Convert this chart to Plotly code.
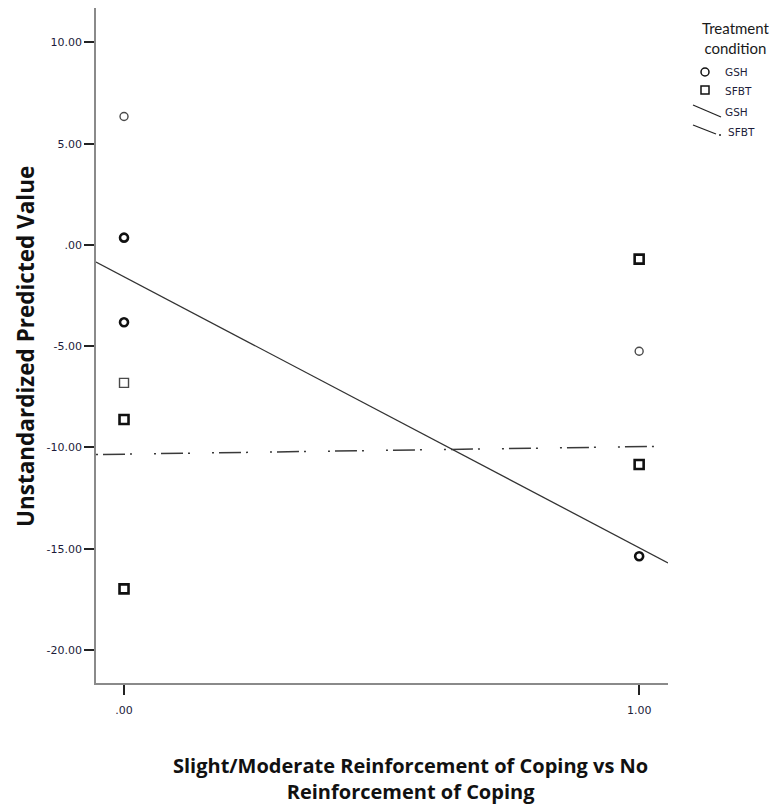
import plotly.graph_objects as go

# Observations: x group (0 = no reinforcement, 1 = slight/moderate), predicted value, number of cases
gsh_x = [0, 0, 0, 1, 1]
gsh_y = [6.34, 0.36, -3.82, -5.25, -15.37]
gsh_n = [1, 2, 2, 1, 2]

sfbt_x = [0, 0, 0, 1, 1]
sfbt_y = [-6.81, -8.62, -16.98, -0.70, -10.84]
sfbt_n = [1, 2, 2, 2, 2]

# Fit lines per group: value at x = 0 and slope
gsh_fit = (-1.57, -13.38)
sfbt_fit = (-10.33, 0.37)

x_range = [-0.0544, 1.056]
y_range = [-21.63, 11.70]
y_ticks = [10, 5, 0, -5, -10, -15, -20]
y_tick_text = ["10.00", "5.00", ".00", "-5.00", "-10.00", "-15.00", "-20.00"]
x_ticks = [0, 1]
x_tick_text = [".00", "1.00"]

x_title_lines = ["Slight/Moderate Reinforcement of Coping vs No", "Reinforcement of Coping"]
y_title = "Unstandardized Predicted Value"

W, H = 770, 807
ML, MR, MT, MB = 96, 102, 8, 124
PW, PH = W - ML - MR, H - MT - MB

TITLE_FONT = "Open Sans"
LEGEND_TITLE_FONT = "Lato"
TICK_FONT = "DejaVu Sans"


def px(x):
    return (x - ML) / PW


def py(y):
    return (H - MB - y) / PH


def stroke(n):
    return 2.6 if n > 1 else 1.4


def colour(n):
    return "#111111" if n > 1 else "#4a4a4a"


fig = go.Figure()

fig.add_trace(go.Scatter(
    x=gsh_x, y=gsh_y, mode="markers", name="GSH",
    marker=dict(symbol="circle-open", size=8,
                color=[colour(n) for n in gsh_n],
                line=dict(width=[stroke(n) for n in gsh_n],
                          color=[colour(n) for n in gsh_n])),
))
fig.add_trace(go.Scatter(
    x=sfbt_x, y=sfbt_y, mode="markers", name="SFBT",
    marker=dict(symbol="square-open", size=9,
                color=[colour(n) for n in sfbt_n],
                line=dict(width=[stroke(n) for n in sfbt_n],
                          color=[colour(n) for n in sfbt_n])),
))

# Fit lines drawn across the whole x range
for (b0, b1), style in [(gsh_fit, dict(color="#333333", width=1.3, dash="solid")),
                        (sfbt_fit, dict(color="#3a3a3a", width=1.5,
                                        dash="2px,5px,22px,5px,2px,22px"))]:
    fig.add_trace(go.Scatter(
        x=x_range, y=[b0 + b1 * x for x in x_range],
        mode="lines", line=style, showlegend=False, hoverinfo="skip",
    ))

# Hand-drawn legend on the right
shapes = []
annotations = []
annotations.append(dict(
    xref="paper", yref="paper", x=px(736), y=py(38), xanchor="center", yanchor="middle",
    text="Treatment<br>condition", showarrow=False, align="center",
    font=dict(family=LEGEND_TITLE_FONT, size=15, color="#1a1a1a"),
))
shapes.append(dict(type="circle", xref="paper", yref="paper",
                   x0=px(701), x1=px(709), y0=py(76), y1=py(68),
                   line=dict(color="#111111", width=1.5)))
shapes.append(dict(type="rect", xref="paper", yref="paper",
                   x0=px(701), x1=px(709), y0=py(94), y1=py(86),
                   line=dict(color="#111111", width=1.5)))
shapes.append(dict(type="line", xref="paper", yref="paper",
                   x0=px(693), x1=px(721), y0=py(105), y1=py(117),
                   line=dict(color="#222222", width=1.3)))
shapes.append(dict(type="line", xref="paper", yref="paper",
                   x0=px(693), x1=px(716), y0=py(125), y1=py(134),
                   line=dict(color="#222222", width=1.3)))
shapes.append(dict(type="line", xref="paper", yref="paper",
                   x0=px(719), x1=px(721), y0=py(135), y1=py(135),
                   line=dict(color="#222222", width=1.5)))
for label, xpix, ypix in [("GSH", 723, 72), ("SFBT", 723, 91), ("GSH", 723, 112), ("SFBT", 726, 132)]:
    annotations.append(dict(
        xref="paper", yref="paper", x=px(xpix), y=py(ypix), xanchor="left", yanchor="middle",
        text=label, showarrow=False,
        font=dict(family=TICK_FONT, size=10.5, color="#1c1c3a"),
    ))

# Two-line x axis title
annotations.append(dict(
    xref="paper", yref="paper", x=px(410), y=py(778), xanchor="center", yanchor="middle",
    text="<b>" + "<br>".join(x_title_lines) + "</b>", showarrow=False, align="center",
    font=dict(family=TITLE_FONT, size=20, color="#111111"),
))

# Rotated y axis title
annotations.append(dict(
    xref="paper", yref="paper", x=px(25), y=py(347), xanchor="center", yanchor="middle",
    text=f"<b>{y_title}</b>", textangle=-90, showarrow=False,
    font=dict(family=TITLE_FONT, size=22.5, color="#111111"),
))

fig.update_layout(
    width=W, height=H,
    margin=dict(l=ML, r=MR, t=MT, b=MB),
    paper_bgcolor="white", plot_bgcolor="white",
    showlegend=False,
    shapes=shapes, annotations=annotations,
    xaxis=dict(
        range=x_range, tickvals=x_ticks, ticktext=x_tick_text,
        showgrid=False, zeroline=False, showline=True, linecolor="#8a8a8a", linewidth=1.6,
        ticks="outside", ticklen=10, tickwidth=2, tickcolor="#222222",
        ticklabelstandoff=6,
        tickfont=dict(family=TICK_FONT, size=11, color="#1c1c3a"),
    ),
    yaxis=dict(
        range=y_range, tickvals=y_ticks, ticktext=y_tick_text,
        showgrid=False, zeroline=False, showline=True, linecolor="#8a8a8a", linewidth=1.6,
        ticks="outside", ticklen=10, tickwidth=2, tickcolor="#222222",
        tickfont=dict(family=TICK_FONT, size=11, color="#1c1c3a"),
    ),
)

fig.write_html("out.html")
